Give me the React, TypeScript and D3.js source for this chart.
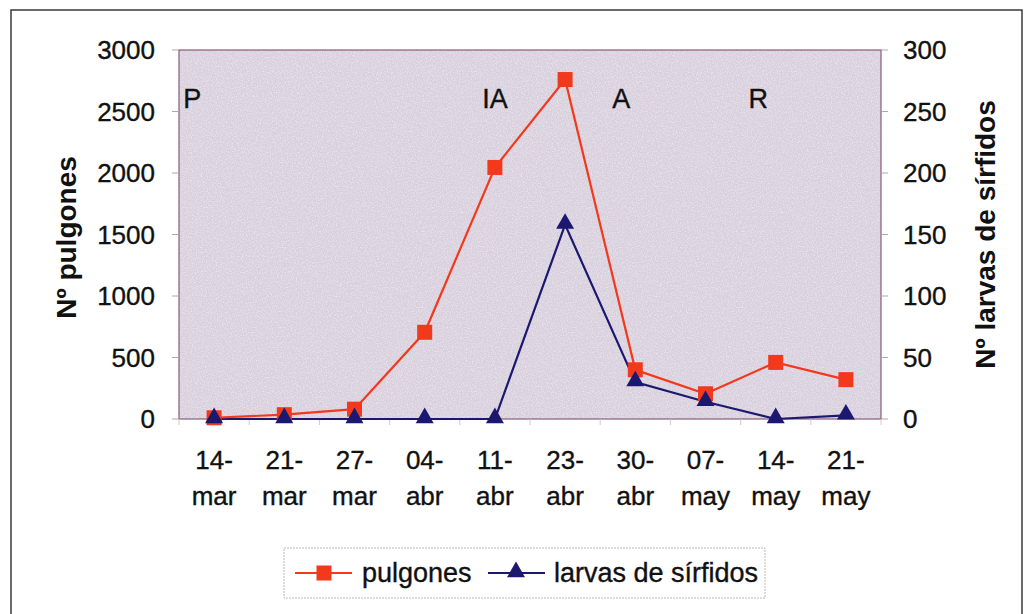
import React from "react";
import * as d3 from "d3";

const categories = ["14-mar", "21-mar", "27-mar", "04-abr", "11-abr", "23-abr", "30-abr", "07-may", "14-may", "21-may"];
const pulgones = [10, 35, 80, 705, 2045, 2760, 400, 205, 460, 320];
const larvas = [0, 0, 0, 0, 0, 158, 30, 14, 0, 3];
const leftTicks = [0, 500, 1000, 1500, 2000, 2500, 3000];
const rightTicks = [0, 50, 100, 150, 200, 250, 300];
const phaseLabels = ["P", "IA", "A", "R"];
const phaseAt = [-0.44, 4, 5.8, 7.75];

const W = 1027, H = 614;
const L = 179, R = 881, T = 50, B = 419;
const FONT = "'Liberation Sans', Arial, sans-serif";

export default function App() {
  const x = d3.scalePoint<string>().domain(categories).range([L, R]).padding(0.5);
  const step = x.step();
  const idx = d3.scaleLinear().domain([0, categories.length - 1]).range([x(categories[0])!, x(categories[categories.length - 1])!]);
  const yL = d3.scaleLinear().domain([0, 3000]).range([B, T]);
  const yR = d3.scaleLinear().domain([0, 300]).range([B, T]);

  const lineL = d3.line<number>().x((_, i) => x(categories[i])!).y((d) => yL(d));
  const lineR = d3.line<number>().x((_, i) => x(categories[i])!).y((d) => yR(d));
  const tri = d3.symbol().type(d3.symbolTriangle).size(140)();

  const red = "#f2391c";
  const navy = "#1c1870";
  const ink = "#111";
  const txt = { fill: ink, stroke: ink, strokeWidth: 0.35 } as const;
  const sq = 15;

  return (
    <svg width={W} height={H} style={{ position: "absolute", left: 0, top: 0, background: "#fff" }} fontFamily={FONT}>
      <defs>
        <filter id="grain" x="0" y="0" width="100%" height="100%">
          <feTurbulence type="fractalNoise" baseFrequency="0.8" numOctaves="2" seed="3" result="n" />
          <feColorMatrix type="matrix" values="0 0 0 0 1  0 0 0 0 1  0 0 0 0 1  0 0 0 1.8 -0.75" />
        </filter>
      </defs>
      {/* outer frame */}
      <rect x={11} y={10} width={1011} height={640} fill="none" stroke="#3a3a3a" strokeWidth={1.5} />

      {/* plot area */}
      <rect x={L} y={T} width={R - L} height={B - T} fill="#d9d0dd" />
      <rect x={L} y={T} width={R - L} height={B - T} filter="url(#grain)" opacity={0.6} />
      <rect x={L} y={T} width={R - L} height={B - T} fill="none" stroke="#8a5a78" strokeWidth={1.2} />

      {/* left axis ticks */}
      {leftTicks.map((t) => (
        <g key={"l" + t}>
          <line x1={L - 7} x2={L} y1={yL(t)} y2={yL(t)} stroke="#aaa" strokeWidth={1} />
          <text x={155} y={yL(t)} dy="0.36em" textAnchor="end" fontSize={26} {...txt}>{t}</text>
        </g>
      ))}
      {/* right axis ticks */}
      {rightTicks.map((t) => (
        <g key={"r" + t}>
          <line x1={R} x2={R + 7} y1={yR(t)} y2={yR(t)} stroke="#aaa" strokeWidth={1} />
          <text x={903} y={yR(t)} dy="0.36em" textAnchor="start" fontSize={26} {...txt}>{t}</text>
        </g>
      ))}
      {/* x ticks at boundaries */}
      {d3.range(categories.length + 1).map((i) => (
        <line key={"xt" + i} x1={L + i * step} x2={L + i * step} y1={B} y2={B + 6} stroke="#ccc" strokeWidth={1} />
      ))}
      {/* x labels */}
      {categories.map((c) => {
        const [d, m] = c.split("-");
        return (
          <text key={c} x={x(c)!} textAnchor="middle" fontSize={26} {...txt}>
            <tspan x={x(c)!} y={469}>{d + "-"}</tspan>
            <tspan x={x(c)!} y={505}>{m}</tspan>
          </text>
        );
      })}

      {/* axis titles */}
      <text transform={`translate(76,${(T + B) / 2 + 3}) rotate(-90)`} textAnchor="middle" fontSize={28} fontWeight="bold" fill={ink}>Nº pulgones</text>
      <text transform={`translate(995,${(T + B) / 2}) rotate(-90)`} textAnchor="middle" fontSize={28} fontWeight="bold" fill={ink}>Nº larvas de sírfidos</text>

      {/* phase labels */}
      {phaseLabels.map((p, i) => (
        <text key={p} x={idx(phaseAt[i])} y={108} textAnchor={i === 0 ? "start" : "middle"} fontSize={27} {...txt}>{p}</text>
      ))}

      {/* series */}
      <path d={lineR(larvas)!} fill="none" stroke={navy} strokeWidth={2.2} />
      <path d={lineL(pulgones)!} fill="none" stroke={red} strokeWidth={2.2} />
      {pulgones.map((v, i) => (
        <rect key={"s" + i} x={x(categories[i])! - sq / 2} y={yL(v) - sq / 2} width={sq} height={sq} fill={red} />
      ))}
      {larvas.map((v, i) => (
        <path key={"t" + i} d={tri!} transform={`translate(${x(categories[i])},${yR(v) - 1})`} fill={navy} />
      ))}

      {/* legend */}
      <rect x={284} y={548} width={481} height={50} fill="#fff" stroke="#b8b8b8" strokeWidth={1} strokeDasharray="2,1" />
      <line x1={295} x2={352} y1={573} y2={573} stroke={red} strokeWidth={2.2} />
      <rect x={324 - sq / 2} y={573 - sq / 2} width={sq} height={sq} fill={red} />
      <text x={362} y={582} fontSize={27} {...txt}>pulgones</text>
      <line x1={488} x2={545} y1={573} y2={573} stroke={navy} strokeWidth={2.2} />
      <path d={tri!} transform="translate(516,572)" fill={navy} />
      <text x={554} y={582} fontSize={27} {...txt}>larvas de sírfidos</text>
    </svg>
  );
}
